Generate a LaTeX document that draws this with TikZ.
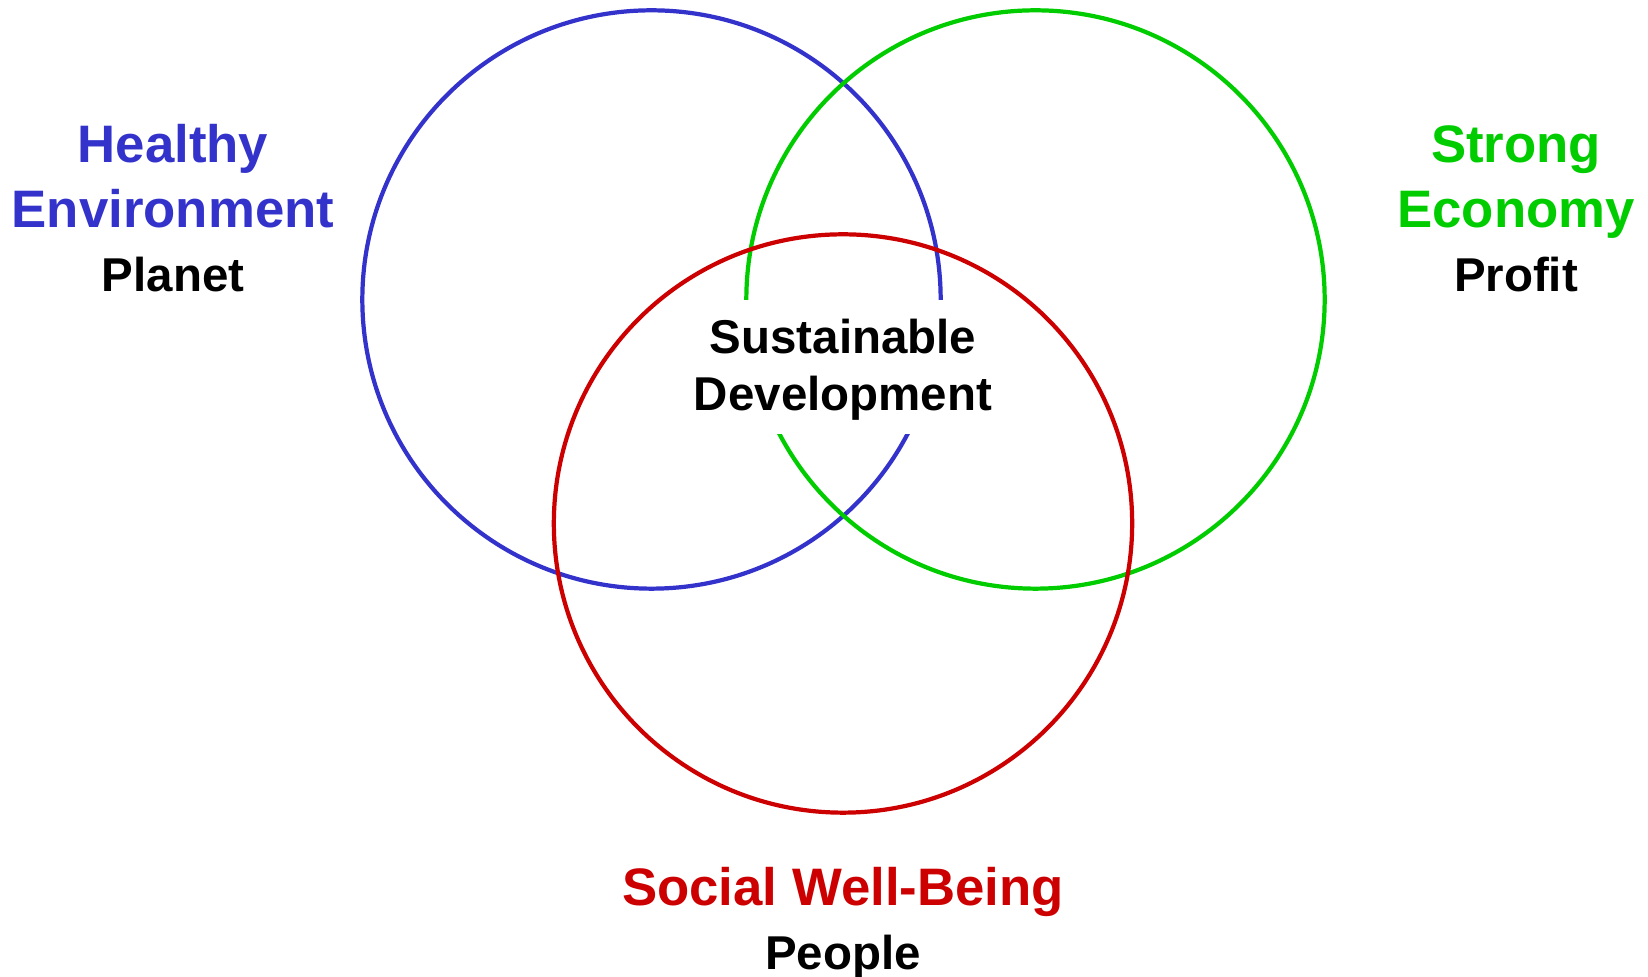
\documentclass[tikz,border=0pt]{standalone}
\usepackage{fontspec}
\setmainfont{Liberation Sans}
\definecolor{envblue}{HTML}{3333CC}
\definecolor{ecogreen}{HTML}{00CC00}
\definecolor{socred}{HTML}{CC0000}
\tikzset{
  ring/.style={circle, draw, line width=1.2pt, minimum size=5.78cm, inner sep=0pt},
  pillar/.style={anchor=base, inner sep=0pt, font=\fontsize{15}{18}\selectfont\bfseries},
  aspect/.style={anchor=base, inner sep=0pt, text=black, font=\fontsize{13.5}{16}\selectfont\bfseries},
  core/.style={fill=white, align=center, inner sep=0pt, minimum width=3.1cm,
    minimum height=1.34cm, font=\fontsize{13.5}{16.2}\selectfont\bfseries}
}

\begin{document}
\begin{tikzpicture}[x=0.01cm,y=-0.01cm]
  \useasboundingbox (0,0) rectangle (1648,977);

  % the three pillars
  \node[ring, draw=envblue]  (envring) at (651.5,299.5) {};
  \node[ring, draw=ecogreen] (ecoring) at (1035.5,299.5) {};
  \node[ring, draw=socred]   (socring) at (843,523.5) {};

  % overlap in the middle (strut pushes the text a little lower in the box)
  \node[core] (sd) at (843,367) {\rule{0pt}{11.6pt}Sustainable\\Development};

  % labels
  \node[pillar, text=envblue] (healthy) at (173,163) {Healthy};
  \node[pillar, text=envblue] (environ) at (173,227.5) {Environment};
  \node[aspect]               (planet)  at (173,291.5) {Planet};

  \node[pillar, text=ecogreen] (strong)  at (1516,163) {Strong};
  \node[pillar, text=ecogreen] (economy) at (1516,227.5) {Economy};
  \node[aspect]                (profit)  at (1516,291.5) {Profit};

  \node[pillar, text=socred] (social) at (843,905.5) {Social Well-Being};
  \node[aspect]              (people) at (843,970) {People};
\end{tikzpicture}
\end{document}
